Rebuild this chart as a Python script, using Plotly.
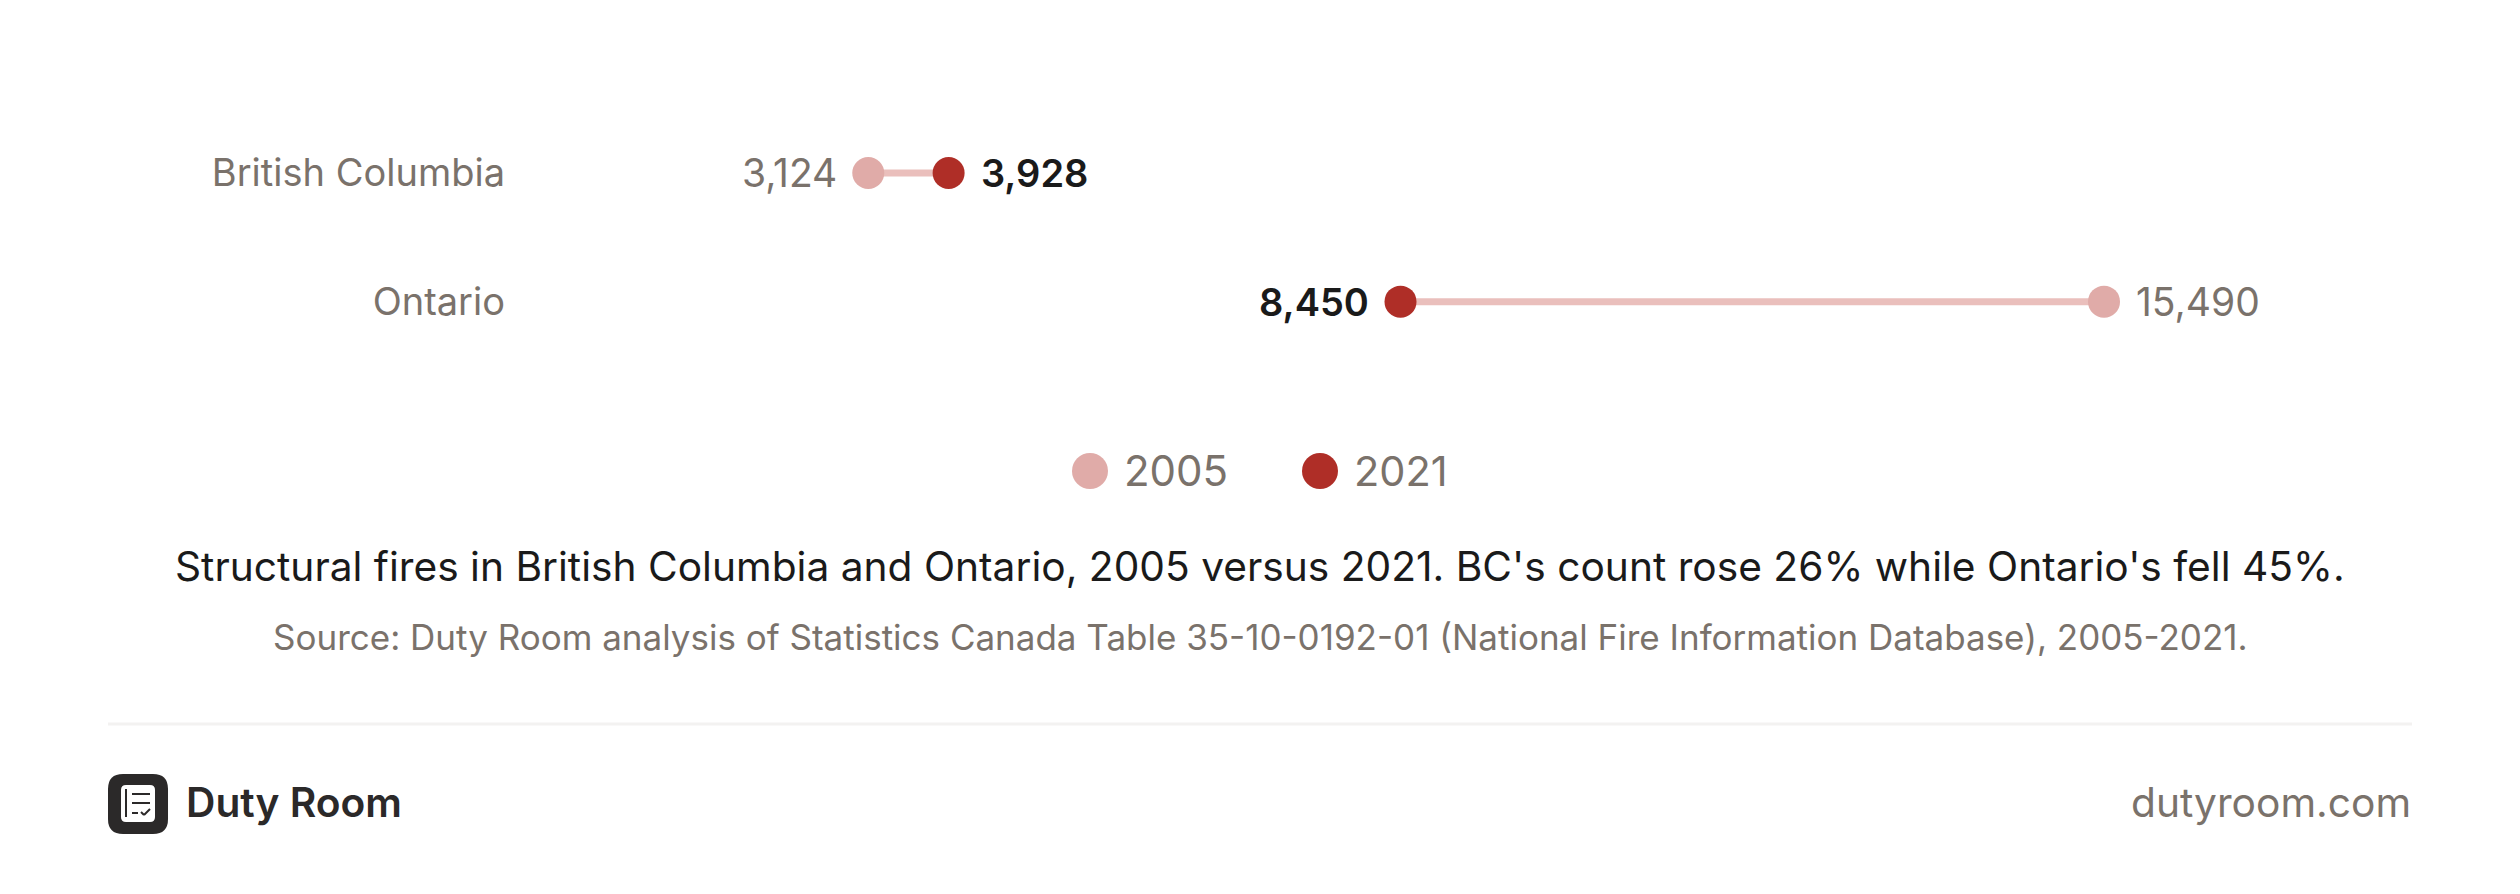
import plotly.graph_objects as go

WIDTH = 2520
HEIGHT = 894

regions = ["British Columbia", "Ontario"]
fires_2005 = [3124, 15490]
fires_2021 = [3928, 8450]
legend_years = ["2005", "2021"]

caption = "Structural fires in British Columbia and Ontario, 2005 versus 2021. BC's count rose 26% while Ontario's fell 45%."
source = "Source: Duty Room analysis of Statistics Canada Table 35-10-0192-01 (National Fire Information Database), 2005-2021."
brand = "Duty Room"
site = "dutyroom.com"

FONT = "Inter"
GREY = "#7A726B"
INK = "#1A1A1A"
DARK = "#2B2929"
RED = "#AF2E27"
PINK = "#E0ABA8"
LINK = "#EABFBC"
RULE = "#F3F2F1"


# margins are zero, so paper coordinates are just pixels over the page size
def px(x):
    return x / WIDTH


def py(y):
    return 1 - y / HEIGHT


def rounded_rect(x0, y0, x1, y1, r):
    p = [(x0 + r, y0), (x1 - r, y0), (x1, y0), (x1, y0 + r), (x1, y1 - r), (x1, y1),
         (x1 - r, y1), (x0 + r, y1), (x0, y1), (x0, y1 - r), (x0, y0 + r), (x0, y0), (x0 + r, y0)]
    p = [f"{px(a):.5f},{py(b):.5f}" for a, b in p]
    return (f"M{p[0]} L{p[1]} Q{p[2]} {p[3]} L{p[4]} Q{p[5]} {p[6]} "
            f"L{p[7]} Q{p[8]} {p[9]} L{p[10]} Q{p[11]} {p[12]} Z")


def paper_line(x0, y0, x1, y1, color, width):
    return dict(type="line", xref="paper", yref="paper", x0=px(x0), y0=py(y0), x1=px(x1), y1=py(y1),
                line=dict(color=color, width=width))


def circle(cx, cy, d, color):
    return dict(type="circle", xref="paper", yref="paper", x0=px(cx - d / 2), x1=px(cx + d / 2),
                y0=py(cy + d / 2), y1=py(cy - d / 2), fillcolor=color, line=dict(width=0))


def page_text(text, x, y, size, color, anchor="center", weight=400):
    return dict(text=text, xref="paper", yref="paper", x=px(x), y=py(y), xanchor=anchor, yanchor="middle",
                showarrow=False, font=dict(family=FONT, size=size, color=color, weight=weight))


fig = go.Figure()

# connecting lines first so the dots sit on top
for region, a, b in zip(regions, fires_2005, fires_2021):
    fig.add_trace(go.Scatter(x=[a, b], y=[region, region], mode="lines",
                             line=dict(color=LINK, width=7), hoverinfo="skip", showlegend=False))

fig.add_trace(go.Scatter(x=fires_2005, y=regions, mode="markers", name=legend_years[0],
                         marker=dict(color=PINK, size=32), showlegend=False))
fig.add_trace(go.Scatter(x=fires_2021, y=regions, mode="markers", name=legend_years[1],
                         marker=dict(color=RED, size=32), showlegend=False))

annotations = []
for region, a, b in zip(regions, fires_2005, fires_2021):
    # label goes on the outside of each dumbbell
    a_left = a < b
    annotations.append(dict(x=a, y=region, text=f"{a:,}", showarrow=False, yanchor="middle",
                            xanchor="right" if a_left else "left", xshift=-29 if a_left else 30,
                            font=dict(family=FONT, size=39, color=GREY)))
    annotations.append(dict(x=b, y=region, text=f"{b:,}", showarrow=False, yanchor="middle",
                            xanchor="left" if a_left else "right", xshift=30 if a_left else -30,
                            font=dict(family=FONT, size=38, color=INK, weight=600)))

annotations += [
    page_text(legend_years[0], 1122, 471, 42, GREY, "left"),
    page_text(legend_years[1], 1352, 471, 41.5, GREY, "left"),
    page_text(caption, 1260, 566, 40.7, INK),
    page_text(source, 1260, 636.5, 35, GREY),
    page_text(brand, 184, 802.5, 40.7, DARK, "left", 600),
    page_text(site, 2413, 802.5, 40.7, GREY, "right"),
]

shapes = [
    circle(1090, 471, 36, PINK),
    circle(1320, 471, 36, RED),
    paper_line(108, 724, 2412, 724, RULE, 3),
    # logo
    dict(type="path", xref="paper", yref="paper", path=rounded_rect(108, 774, 168, 834, 15),
         fillcolor=DARK, line=dict(width=0)),
    dict(type="path", xref="paper", yref="paper", path=rounded_rect(121, 785, 155, 822, 5),
         fillcolor="white", line=dict(width=0)),
    paper_line(126, 789, 126, 817, DARK, 2),
    paper_line(132, 794, 150, 794, DARK, 2),
    paper_line(132, 803, 150, 803, DARK, 2),
    paper_line(132, 813, 138, 813, DARK, 2),
    paper_line(141, 812, 144, 815, DARK, 2),
    paper_line(144, 815, 150, 809, DARK, 2),
]

fig.update_layout(
    width=WIDTH,
    height=HEIGHT,
    margin=dict(l=0, r=0, t=0, b=0),
    paper_bgcolor="white",
    plot_bgcolor="white",
    showlegend=False,
    shapes=shapes,
    annotations=annotations,
)
fig.update_xaxes(domain=[px(521), px(2412)], range=[-351, 18572], visible=False, fixedrange=True)
fig.update_yaxes(domain=[py(366), py(108.6)], type="category", categoryorder="array", categoryarray=regions,
                 range=[1.5, -0.5], showgrid=False, zeroline=False, showline=False, ticks="", ticklabelstandoff=15,
                 tickfont=dict(family=FONT, size=38, color=GREY), fixedrange=True)

fig.write_html("out.html", config=dict(displayModeBar=False),
               post_script="document.body.style.margin='0';document.body.style.overflow='hidden';")
